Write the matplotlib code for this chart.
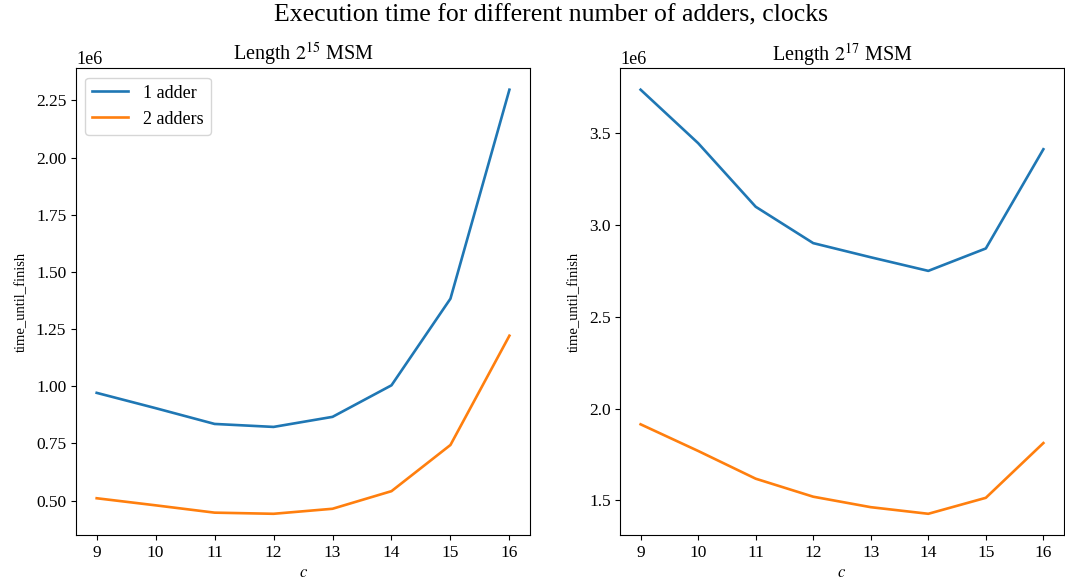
import matplotlib
matplotlib.use("Agg")
import matplotlib.pyplot as plt

plt.rcParams["font.family"] = ["Liberation Serif", "DejaVu Serif"]
plt.rcParams["mathtext.fontset"] = "stix"

c_vals = [9, 10, 11, 12, 13, 14, 15, 16]

# length 2^15
one_adder_15  = [0.971e6, 0.904e6, 0.835e6, 0.822e6, 0.866e6, 1.004e6, 1.383e6, 2.297e6]
two_adders_15 = [0.510e6, 0.479e6, 0.447e6, 0.442e6, 0.464e6, 0.541e6, 0.743e6, 1.221e6]

# length 2^17
one_adder_17  = [3.735e6, 3.444e6, 3.098e6, 2.900e6, 2.823e6, 2.749e6, 2.871e6, 3.411e6]
two_adders_17 = [1.914e6, 1.769e6, 1.618e6, 1.520e6, 1.463e6, 1.427e6, 1.514e6, 1.812e6]

fig = plt.figure(figsize=(10.65, 5.78), dpi=100)
ax1 = fig.add_axes([0.0714, 0.0744, 0.4263, 0.8071])
ax2 = fig.add_axes([0.5826, 0.0744, 0.4160, 0.8071])

ax1.plot(c_vals, one_adder_15, lw=1.9, label="1 adder")
ax1.plot(c_vals, two_adders_15, lw=1.9, label="2 adders")
ax1.set_title(r"Length $2^{15}$ MSM", fontsize=14.5, pad=5)
ax1.legend(loc="upper left", fontsize=13)

ax2.plot(c_vals, one_adder_17, lw=1.9, label="1 adder")
ax2.plot(c_vals, two_adders_17, lw=1.9, label="2 adders")
ax2.set_title(r"Length $2^{17}$ MSM", fontsize=14.5, pad=5)

for ax in (ax1, ax2):
    ax.set_xlabel(r"$c$", fontsize=12, labelpad=3)
    ax.set_ylabel("time_until_finish", fontsize=10.5, labelpad=6)
    ax.tick_params(labelsize=12.5)
    ax.yaxis.get_offset_text().set_fontsize(13)

fig.suptitle("Execution time for different number of adders, clocks",
             fontsize=18.5, x=0.517, y=0.992)

fig.savefig("out.png", dpi=100)
